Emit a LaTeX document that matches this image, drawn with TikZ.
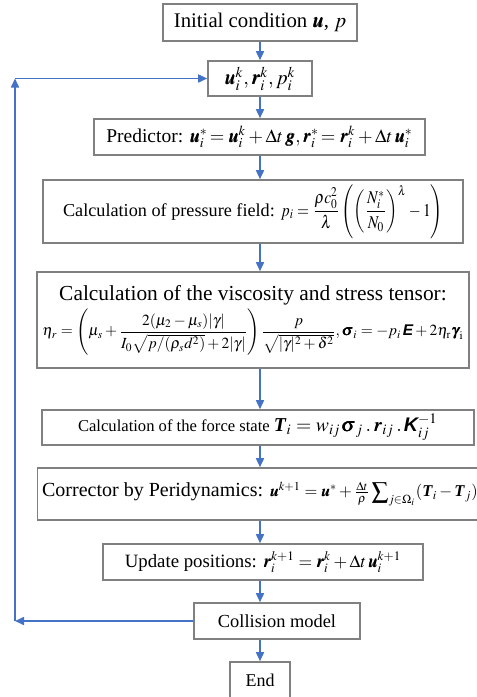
\documentclass[tikz,border=0pt]{standalone}
\usepackage{amsmath, amssymb}
\usepackage{mathptmx}
\usepackage{bm}
\usepackage{graphicx}
\usepackage[no-math]{fontspec}
\setmainfont{Liberation Serif}
\setsansfont{Liberation Sans}
\usetikzlibrary{arrows.meta, positioning}
\definecolor{flowblue}{RGB}{68,114,196}
\definecolor{boxgray}{RGB}{128,128,128}
\newcommand{\sfbold}[1]{\textsf{\bfseries\itshape #1}}
\newcommand{\rmbold}[1]{\textbf{\textit{#1}}}
% math squeezed to the width it has in the flowchart
\newcommand{\mfit}[2]{\resizebox{#1}{!}{$#2$}}
\tikzset{
  stepbox/.style={draw=boxgray, line width=0.8pt, inner sep=0pt, align=center},
  flow/.style={flowblue, line width=0.8pt, -{Triangle[length=4.5pt,width=4pt]}},
}

\begin{document}
\begin{tikzpicture}[x=0.5pt, y=-0.5pt]
  \useasboundingbox (0,0) rectangle (477,697);
  % Start
  \node[stepbox, minimum width=97pt, minimum height=18.5pt, font=\fontsize{10.4}{12}\selectfont]
    (init) at (260,22.5) {Initial condition $\bm{u}$, $p$};
  % State at step k
  \node[stepbox, minimum width=52pt, minimum height=17.5pt, font=\fontsize{11}{13}\selectfont]
    (state) at (260,78.5) {\mfit{35.5pt}{\bm{u}_i^k, \bm{r}_i^k, p_i^k}};
  % Predictor
  \node[stepbox, minimum width=165.5pt, minimum height=18pt, font=\fontsize{9.75}{12}\selectfont]
    (pred) at (259.5,137) {Predictor: \mfit{111.5pt}{\bm{u}_i^*\!= \bm{u}_i^k + \Delta t\,\bm{g}, \bm{r}_i^*\!= \bm{r}_i^k + \Delta t\,\bm{u}_i^*}};
  % Pressure
  \node[stepbox, minimum width=210pt, minimum height=31.5pt, font=\fontsize{9.1}{11}\selectfont]
    (press) at (253,211.5) {Calculation of pressure field: \resizebox*{81pt}{27pt}{$\displaystyle p_i = \frac{\rho c_0^2}{\lambda}\left(\left(\frac{N_i^*}{N_0}\right)^{\lambda} - 1\right)$}};
  % Viscosity and stress
  \node[stepbox, minimum width=216pt, minimum height=48pt]
    (visc) at (253,320) {{\fontsize{10.7}{13}\selectfont Calculation of the viscosity and stress tensor:}\\[1pt]
    \mfit{210.5pt}{\displaystyle \eta_r = \left(\mu_s + \frac{2(\mu_2 - \mu_s)|\gamma|}{I_0\sqrt{p/(\rho_s d^2)} + 2|\gamma|}\right)\frac{p}{\sqrt{|\gamma|^2 + \delta^2}}, \bm{\sigma}_i = -p_i\,\sfbold{E} + 2\eta_{\mathrm{r}}\bm{\gamma}_{\mathrm{i}}}};
  % Force state
  \node[stepbox, minimum width=216pt, minimum height=17.5pt, font=\fontsize{8.3}{10}\selectfont]
    (force) at (258,427.5) {Calculation of the force state \mfit{82pt}{\rmbold{T}_i = w_{ij}\bm{\sigma}_j\,.\,\bm{r}_{ij}\,.\,\sfbold{K}_{ij}^{-1}}};
  % Corrector
  \node[stepbox, minimum width=222.5pt, minimum height=26pt, font=\fontsize{10}{12}\selectfont]
    (corr) at (260,494) {Corrector by Peridynamics: \mfit{104pt}{\bm{u}^{k+1} = \bm{u}^* + \tfrac{\Delta t}{\rho}\displaystyle\sum\nolimits_{j\in\Omega_i}(\rmbold{T}_i - \rmbold{T}_j)}};
  % Update
  \node[stepbox, minimum width=160pt, minimum height=18pt, font=\fontsize{9.4}{12}\selectfont]
    (update) at (263,562) {Update positions: \mfit{69pt}{\bm{r}_i^{k+1} = \bm{r}_i^k + \Delta t\,\bm{u}_i^{k+1}}};
  % Collision
  \node[stepbox, minimum width=83pt, minimum height=18pt, font=\fontsize{9.2}{11}\selectfont]
    (coll) at (277,621) {Collision model};
  % End
  \node[stepbox, minimum width=30pt, minimum height=18pt, font=\fontsize{9}{11}\selectfont]
    (finish) at (260,680) {End};
  % Main flow
  \foreach \a/\b in {init/state, state/pred, pred/press, press/visc, visc/force, force/corr, corr/update, update/coll, coll/finish}
    \draw[flow] (\a.south -| init.south) -- (\b.north -| init.south);
  % Loop back
  \coordinate (loopb) at (15,621);
  \coordinate (loopt) at (15,78.5);
  \draw[flow] (coll.west) -- (loopb);
  \draw[flow] (loopb) -- (loopt);
  \draw[flow] (loopt) -- (state.west);
\end{tikzpicture}
\end{document}
